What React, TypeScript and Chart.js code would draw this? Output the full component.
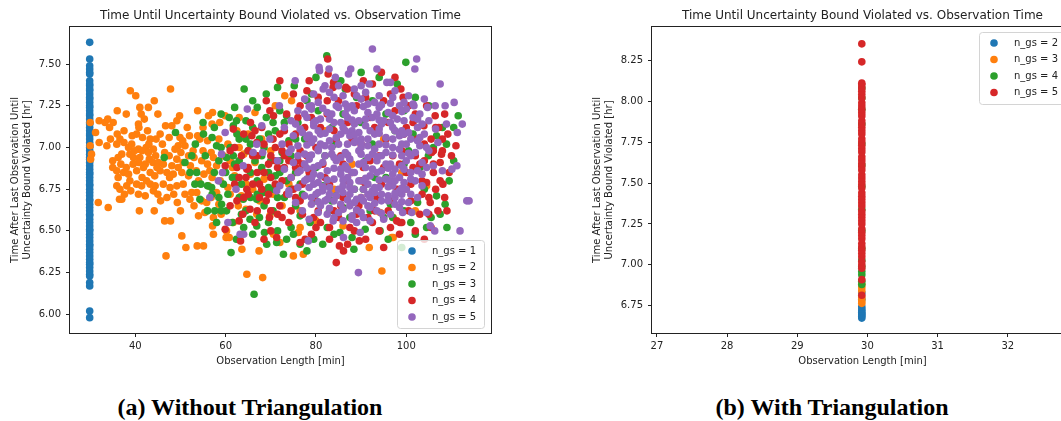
import React, { useEffect, useRef } from 'react';
import { Chart, registerables } from 'chart.js';

Chart.register(...registerables);

const FONT = '"DejaVu Sans", sans-serif';
const TEXT = '#222222';

const TITLE = 'Time Until Uncertainty Bound Violated vs. Observation Time';
const X_LABEL = 'Observation Length [min]';
const Y_LABEL = ['Time After Last Observation Until', 'Uncertainty Bound Violated [hr]'];
const CAPTION_A = '(a) Without Triangulation';
const CAPTION_B = '(b) With Triangulation';

const COLORS = ['#1f77b4', '#ff7f0e', '#2ca02c', '#d62728', '#9467bd'];

const leftLabels = ['n_gs = 1', 'n_gs = 2', 'n_gs = 3', 'n_gs = 4', 'n_gs = 5'];
const rightLabels = ['n_gs = 2', 'n_gs = 3', 'n_gs = 4', 'n_gs = 5'];

const leftXTicks = [40, 60, 80, 100];
const leftYTicks = [6.0, 6.25, 6.5, 6.75, 7.0, 7.25, 7.5];
const rightXTicks = [27, 28, 29, 30, 31, 32];
const rightYTicks = [6.75, 7.0, 7.25, 7.5, 7.75, 8.0, 8.25];

const leftXRange = [25.54, 118.76];
const leftYRange = [5.888, 7.722];
const rightXRange = [26.93, 32.93];
const rightYRange = [6.584, 8.453];

const POINT_R = 3.8;

// ---- (a) Without Triangulation ----
const n1X = 29.9;
const n1Y = [7.63, 7.53, 7.49, 7.47, 7.45, 7.44, 7.40, 7.38, 7.37, 7.35, 7.34, 7.32, 7.30, 7.29, 7.27, 7.25, 7.24, 7.22, 7.20, 7.19, 7.17, 7.15, 7.14, 7.12, 7.10, 7.08, 7.07, 7.05, 7.03, 7.01, 7.00, 6.98, 6.96, 6.94, 6.93, 6.91, 6.89, 6.87, 6.85, 6.84, 6.82, 6.80, 6.78, 6.77, 6.75, 6.73, 6.71, 6.69, 6.68, 6.66, 6.64, 6.62, 6.60, 6.59, 6.57, 6.55, 6.53, 6.51, 6.50, 6.48, 6.46, 6.44, 6.42, 6.41, 6.39, 6.37, 6.35, 6.33, 6.31, 6.30, 6.28, 6.26, 6.24, 6.23, 6.19, 6.17, 6.02, 5.98];

const n2Points = [
  [38.9, 7.34], [40.1, 7.31], [47.8, 7.35], [73.1, 7.31],
  [41.0, 7.24], [42.9, 7.24], [44.2, 7.28], [41.3, 7.20], [53.8, 7.22], [56.2, 7.19], [57.1, 7.21], [49.8, 7.19], [49.2, 7.16], [59.9, 7.19], [63.0, 7.18], [66.5, 7.21], [71.0, 7.25], [74.6, 7.28],
  [30.0, 7.15], [32.0, 7.16], [33.3, 7.15], [33.9, 7.17], [35.1, 7.15], [40.7, 7.14], [57.0, 7.14], [58.7, 7.15],
  [31.2, 7.09], [34.3, 7.12], [40.8, 7.12], [46.7, 7.13], [48.1, 7.13], [45.5, 7.08], [42.7, 7.10], [39.3, 7.07], [40.3, 7.08], [41.6, 7.06], [43.3, 7.05], [44.6, 7.05], [36.6, 7.05], [37.5, 7.03], [35.9, 7.02], [33.7, 7.01], [32.0, 7.03], [30.0, 7.01], [53.8, 7.07], [54.3, 7.05], [49.9, 7.06], [49.5, 7.01], [51.0, 7.01], [39.2, 7.02], [42.4, 7.00], [62.5, 7.10], [65.0, 7.08], [56.0, 7.04], [60.5, 7.02], [68.0, 7.05],
  [30.3, 6.96], [30.1, 6.93], [40.7, 6.99], [44.0, 6.99], [37.0, 6.96], [38.8, 6.96], [39.6, 6.94], [41.0, 6.94], [42.9, 6.97], [43.1, 6.93], [40.7, 6.91], [42.2, 6.90], [43.9, 6.91], [45.1, 6.91], [50.1, 6.97], [51.8, 6.95], [49.2, 6.93], [50.6, 6.91], [48.1, 6.89], [57.3, 6.94], [54.7, 6.92], [56.0, 6.90], [58.0, 6.89], [46.5, 6.97], [35.0, 6.92], [36.2, 6.94], [47.5, 6.95], [52.8, 6.98], [61.0, 6.92], [64.0, 6.96], [66.5, 6.91],
  [35.9, 6.86], [37.4, 6.85], [40.3, 6.86], [43.3, 6.85], [45.5, 6.86], [47.0, 6.85], [48.4, 6.84], [50.3, 6.85], [51.8, 6.83], [36.2, 6.82], [38.5, 6.84], [41.5, 6.82], [44.3, 6.83], [53.5, 6.86], [55.2, 6.84], [57.0, 6.82], [59.5, 6.85], [62.0, 6.83], [65.5, 6.84], [68.5, 6.81], [72.0, 6.86],
  [35.9, 6.77], [36.6, 6.75], [38.1, 6.77], [40.3, 6.78], [41.4, 6.77], [43.3, 6.78], [44.4, 6.77], [46.2, 6.78], [47.7, 6.76], [49.2, 6.77], [50.6, 6.78], [40.7, 6.72], [42.2, 6.71], [44.0, 6.74], [51.0, 6.72], [52.5, 6.73], [56.2, 6.77], [58.0, 6.73], [53.6, 6.73], [37.6, 6.72], [39.0, 6.74], [60.5, 6.76], [63.5, 6.71], [66.0, 6.75], [70.5, 6.72], [74.0, 6.78],
  [31.8, 6.67], [34.0, 6.64], [36.5, 6.69], [37.0, 6.69], [45.6, 6.68], [49.3, 6.67], [52.1, 6.69], [54.7, 6.68], [55.8, 6.67], [40.9, 6.62], [44.2, 6.62], [55.4, 6.61], [62.8, 6.65], [66.9, 6.60], [69.8, 6.59], [58.5, 6.66], [64.5, 6.63], [76.5, 6.62], [94.2, 6.61], [72.5, 6.65],
  [46.5, 6.56], [47.8, 6.56], [54.0, 6.59], [57.3, 6.58], [57.1, 6.53], [61.7, 6.55], [97.1, 6.58], [76.5, 6.52], [80.0, 6.56], [86.0, 6.53],
  [50.3, 6.47], [57.3, 6.48], [60.1, 6.46], [60.8, 6.46], [60.2, 6.50], [70.6, 6.48], [76.1, 6.49], [96.8, 6.46], [97.1, 6.46], [72.0, 6.43], [53.7, 6.41], [55.1, 6.41], [51.2, 6.40], [91.8, 6.40],
  [46.8, 6.35], [63.6, 6.39], [67.4, 6.38], [75.0, 6.35], [77.2, 6.36], [64.7, 6.24], [68.2, 6.22], [94.6, 6.26],
  [78.0, 6.95], [84.0, 6.75], [90.0, 6.70], [88.0, 6.90], [100.0, 6.75], [104.5, 6.77], [95.0, 7.05], [82.0, 7.10], [70.0, 6.98], [67.5, 6.68], [102.0, 6.62], [99.0, 6.85],
  [34.5, 7.05], [36.0, 7.08], [37.5, 7.10], [38.5, 7.00], [39.8, 6.98], [41.5, 6.98], [43.0, 7.02], [44.5, 6.95], [46.0, 7.02], [47.5, 7.06], [48.8, 6.99], [50.5, 7.04], [52.0, 7.07], [53.0, 6.94], [55.0, 6.98], [56.8, 6.97], [58.5, 7.05], [59.5, 6.95],
  [35.0, 6.88], [36.8, 6.90], [38.0, 6.88], [39.5, 6.90], [41.8, 6.88], [44.8, 6.88], [46.2, 6.90], [47.6, 6.82], [49.5, 6.88], [52.2, 6.89], [54.0, 6.80], [56.5, 6.86], [58.8, 6.80], [61.0, 6.72], [38.8, 6.80], [42.5, 6.80], [45.0, 6.72], [47.0, 6.70], [48.5, 6.72], [50.0, 6.62], [53.0, 6.65], [56.8, 6.70], [59.0, 6.60], [61.5, 6.88], [63.0, 7.00], [64.5, 6.78], [42.0, 7.17], [45.0, 7.20], [51.5, 7.12], [55.0, 7.12], [38.0, 7.20], [36.0, 7.22],
];

const n3Points = [
  [82.4, 7.55], [99.9, 7.51], [64.1, 7.35], [75.2, 7.37], [73.5, 7.19],
  [111.5, 7.19], [108.9, 7.02], [104.9, 6.95], [106.7, 7.07], [48.9, 7.09], [55.1, 7.08], [53.3, 7.02], [46.4, 6.94], [51.0, 6.91], [52.1, 6.85], [53.6, 6.85], [58.0, 7.01], [60.2, 6.94], [61.7, 6.95], [60.8, 7.18], [62.4, 7.16], [61.7, 7.13],
  [53.2, 6.78], [56.9, 6.76], [59.1, 6.66], [60.2, 6.62], [61.2, 6.37], [66.3, 6.12], [66.0, 6.48], [68.6, 6.49], [69.1, 6.42], [71.3, 6.43], [69.5, 6.55], [65.4, 6.57], [66.9, 6.53], [62.4, 6.45], [63.9, 6.69], [66.9, 6.69], [68.4, 6.73], [57.6, 6.62], [54.3, 6.69],
  [72.8, 6.36], [81.5, 6.42], [88.4, 6.39], [94.2, 6.50], [108.6, 6.66], [106.7, 6.71], [85.3, 6.49], [78.7, 6.55], [90.9, 6.51], [76.5, 6.59],
  [63.0, 7.05], [65.0, 6.98], [66.5, 6.92], [68.0, 6.88], [67.0, 6.80], [69.5, 6.76], [71.0, 6.83], [72.5, 6.97], [74.0, 7.04], [73.0, 6.70], [75.5, 6.65], [77.0, 6.72], [78.5, 6.82], [80.0, 6.68], [81.5, 6.77], [83.0, 6.62], [84.5, 6.71], [86.0, 6.64], [87.5, 6.58], [89.0, 6.67], [90.5, 6.75], [92.0, 6.62], [93.5, 6.70], [95.0, 6.58], [96.5, 6.66], [98.0, 6.73], [99.5, 6.62], [101.0, 6.55], [102.5, 6.67], [104.0, 6.75], [105.5, 6.58], [103.0, 6.88], [100.5, 6.98], [97.5, 7.10], [95.5, 7.20], [92.5, 7.28], [89.0, 7.30], [86.0, 7.20], [83.5, 7.12], [80.5, 7.22], [78.0, 7.28], [76.0, 7.15], [71.0, 7.10], [69.0, 7.18], [67.0, 7.24], [64.5, 7.16], [62.5, 6.82], [59.5, 6.78], [57.5, 6.85], [55.5, 6.95], [65.5, 6.70], [70.5, 6.62], [74.5, 6.52], [79.5, 6.45], [82.5, 6.52], [88.0, 6.46], [96.0, 6.45], [99.0, 6.40], [102.0, 6.48], [107.5, 6.60], [109.5, 6.80], [110.5, 6.92], [108.0, 7.12], [105.0, 7.25], [102.0, 7.30], [98.0, 7.38], [94.0, 7.42], [90.0, 7.45], [85.5, 7.40], [80.0, 7.42], [77.5, 7.05], [82.0, 6.95], [86.5, 6.88], [91.0, 6.92], [95.5, 6.82], [99.5, 6.90], [84.0, 7.02], [88.0, 7.08], [92.5, 7.02], [68.5, 7.00], [72.0, 7.22], [70.0, 6.92], [61.0, 7.00], [58.5, 6.70], [63.5, 6.60], [67.5, 6.58], [71.5, 6.50], [76.5, 6.42], [73.5, 6.45], [110.5, 7.12], [109.0, 6.52], [56.0, 6.77], [59.0, 6.62],
  [55.0, 7.15], [57.0, 7.06], [59.0, 7.20], [60.0, 6.85], [62.0, 6.90], [63.5, 6.78], [64.5, 7.05], [65.5, 6.85], [66.0, 7.12], [67.5, 7.05], [68.5, 6.65], [69.5, 6.85], [70.5, 7.15], [71.5, 6.70], [72.0, 6.92], [73.5, 6.80], [74.5, 6.95], [75.5, 7.05], [63.0, 6.70], [61.5, 6.55], [64.0, 6.52], [58.0, 6.55], [56.0, 6.62], [54.5, 6.78], [52.5, 6.95], [57.5, 7.12], [69.0, 7.32], [66.0, 7.28], [62.0, 7.24], [71.5, 7.36], [80.0, 6.88], [88.5, 6.75], [93.0, 6.82], [97.0, 6.58], [101.5, 7.08], [104.5, 6.52], [106.0, 7.00], [83.5, 6.68], [90.0, 7.15], [79.0, 7.32], [86.5, 7.35], [99.5, 7.22], [84.0, 6.48], [75.0, 6.48], [78.0, 6.38],
  [60.5, 6.72], [61.5, 6.82], [63.0, 6.92], [64.5, 6.62], [65.5, 7.02], [67.0, 6.72], [68.0, 6.95], [69.5, 7.08], [70.5, 6.75], [72.0, 6.85], [73.0, 7.15], [74.5, 6.75], [75.5, 6.85], [76.5, 6.78], [62.5, 7.08], [58.5, 6.92], [57.0, 6.72], [59.0, 7.00],
];

const n4Points = [
  [82.6, 7.53], [82.7, 7.44], [83.9, 7.39], [78.5, 7.40], [98.8, 7.35], [99.3, 7.30], [86.6, 7.36], [72.0, 7.40], [83.8, 7.36], [109.2, 7.08], [111.0, 7.01], [108.0, 6.98], [105.6, 6.97], [106.0, 6.90], [107.5, 6.91], [103.9, 7.13], [106.4, 7.19], [107.2, 7.12], [107.8, 6.96],
  [69.8, 7.22], [70.6, 7.19], [61.7, 7.11], [65.8, 7.07], [66.9, 7.03], [59.9, 6.89], [64.7, 6.87], [59.9, 6.51], [63.0, 6.56], [63.8, 6.60], [63.3, 6.44], [64.7, 6.75], [65.4, 6.63], [71.3, 6.46], [69.7, 6.58],
  [84.5, 6.31], [85.2, 6.41], [86.1, 6.38], [89.6, 6.44], [98.6, 6.55], [97.9, 6.56], [77.6, 6.45], [76.5, 6.43], [105.3, 6.67], [104.5, 6.79], [108.1, 6.78],
  [66.0, 6.78], [67.5, 6.70], [68.5, 6.85], [70.0, 6.95], [71.0, 6.78], [72.0, 6.65], [73.0, 6.88], [74.0, 7.02], [75.0, 6.75], [76.0, 6.92], [77.0, 6.60], [77.5, 7.12], [78.5, 6.85], [79.5, 6.70], [80.0, 7.00], [81.0, 6.55], [81.5, 6.90], [82.5, 7.20], [83.0, 6.78], [84.0, 6.62], [84.5, 7.05], [85.5, 6.95], [86.0, 6.70], [87.0, 7.15], [87.5, 6.52], [88.0, 6.85], [89.0, 7.25], [89.5, 6.65], [90.0, 7.02], [91.0, 6.78], [91.5, 6.58], [92.0, 6.92], [93.0, 7.12], [93.5, 6.70], [94.0, 6.50], [95.0, 6.88], [95.5, 7.05], [96.0, 6.62], [97.0, 6.95], [97.5, 7.22], [98.0, 6.75], [99.0, 6.55], [99.5, 7.08], [100.0, 6.85], [101.0, 6.68], [101.5, 7.15], [102.0, 6.95], [103.0, 6.60], [103.5, 6.80], [104.0, 7.02], [105.0, 6.70], [105.5, 6.52], [106.0, 6.85], [107.0, 6.62], [108.0, 7.05],
  [100.5, 7.25], [96.5, 7.32], [92.5, 7.38], [88.5, 7.32], [85.0, 7.28], [80.5, 7.30], [76.5, 7.25], [73.5, 7.20], [70.5, 7.05], [68.0, 7.12], [67.0, 6.95], [64.5, 6.82], [62.0, 6.78], [61.0, 6.65], [66.5, 6.55], [70.0, 6.50], [74.0, 6.55], [79.0, 6.48], [83.0, 6.45], [87.0, 6.42], [91.0, 6.45], [95.0, 6.40], [102.0, 6.50],
  [72.5, 6.98], [75.5, 7.08], [78.0, 6.95], [82.0, 6.82], [86.5, 6.80], [90.5, 6.88], [94.5, 6.78], [98.5, 6.90], [102.5, 7.05], [106.5, 7.12], [79.0, 7.18], [84.0, 7.10], [88.0, 7.05], [92.0, 7.18], [96.0, 7.15], [100.0, 7.12], [104.5, 7.25], [71.5, 6.88], [69.0, 6.68], [74.5, 6.82], [77.0, 6.78], [80.5, 6.62], [85.0, 6.58], [89.0, 6.60], [93.0, 6.62], [97.0, 6.68], [101.0, 6.78], [105.0, 6.60], [108.5, 6.70], [109.5, 6.85], [110.0, 6.95], [106.5, 6.75], [103.0, 6.90],
  [63.5, 6.95], [65.0, 6.88], [66.5, 7.10], [68.0, 6.75], [69.5, 6.90], [71.0, 7.00], [72.5, 6.80], [74.0, 6.92], [75.5, 6.70], [73.0, 7.10], [76.5, 6.98], [78.5, 7.05], [70.0, 6.62], [67.0, 6.62], [64.0, 6.70], [62.5, 6.88], [61.0, 6.98], [65.5, 7.15], [69.0, 7.28], [75.0, 7.32], [79.5, 6.58], [72.5, 6.58], [68.5, 6.45],
  [102.0, 7.20], [104.0, 6.92], [106.0, 6.98], [107.5, 6.80], [109.0, 6.62], [103.5, 6.72], [100.5, 6.62], [105.5, 7.05], [108.5, 7.20], [101.5, 6.88], [99.0, 6.98], [86.0, 6.90], [90.0, 6.80], [94.0, 6.95], [81.0, 7.12], [85.5, 6.65], [92.5, 6.55], [96.5, 6.52], [88.5, 6.50], [83.0, 6.52], [80.0, 6.52], [98.5, 6.48], [104.0, 6.45], [87.0, 7.35], [91.0, 7.30], [95.0, 7.28], [82.5, 7.28], [78.0, 7.34], [94.5, 7.45], [97.5, 7.42], [90.5, 7.40],
  [62.0, 7.00], [63.0, 6.82], [64.0, 7.08], [65.0, 6.72], [66.0, 6.95], [67.0, 6.85], [68.5, 7.02], [69.5, 6.72], [71.0, 6.92], [72.0, 7.08], [73.5, 6.72], [74.5, 6.62], [75.5, 6.88], [76.0, 7.18], [77.0, 6.90], [70.0, 6.82], [73.0, 6.95], [67.5, 6.78], [65.0, 6.98], [62.5, 6.68], [71.5, 6.60], [76.5, 6.68],
];

const n5Points = [
  [92.5, 7.59], [102.3, 7.53], [101.9, 7.47], [93.5, 7.47], [82.9, 7.47], [80.7, 7.48], [80.8, 7.46], [87.7, 7.47], [87.2, 7.44], [84.3, 7.42], [75.4, 7.40], [107.5, 7.38], [110.6, 7.27], [108.6, 7.25], [112.4, 7.14], [111.3, 7.09], [108.9, 7.14], [104.0, 7.29], [104.7, 7.24], [106.4, 7.25], [101.7, 7.25], [95.7, 7.39], [96.5, 7.39], [91.8, 7.38], [89.0, 7.31], [82.0, 7.37], [81.6, 7.35], [110.1, 6.87], [111.2, 6.89],
  [64.8, 7.23], [71.9, 7.25], [59.9, 7.09], [59.1, 6.96], [59.3, 6.85], [68.0, 7.13], [69.8, 7.05], [66.9, 7.02], [63.9, 6.89], [66.1, 6.97], [68.2, 6.97], [58.4, 6.80], [62.3, 6.75], [56.5, 6.70], [60.5, 6.55], [63.2, 6.48], [64.0, 6.48], [71.3, 6.74],
  [89.4, 6.25], [86.1, 6.46], [78.3, 6.44], [105.3, 6.53], [106.3, 6.50], [111.9, 6.50], [113.4, 6.68], [113.9, 6.68], [104.5, 6.61], [101.2, 6.61], [99.2, 6.61], [89.0, 6.55], [83.8, 6.56], [89.8, 6.49],
  [79.5, 7.32], [83.0, 7.33], [86.0, 7.31], [88.5, 7.35], [91.0, 7.33], [94.0, 7.31], [97.5, 7.34], [100.5, 7.31], [85.0, 7.37], [90.0, 7.37],
  [77.5, 7.29], [80.5, 7.27], [84.0, 7.30], [86.5, 7.26], [90.0, 7.29], [93.0, 7.27], [97.0, 7.30], [99.5, 7.27],
  [76.0, 7.22], [79.0, 7.23], [82.5, 7.21], [85.0, 7.24], [88.5, 7.22], [91.5, 7.21], [94.0, 7.24], [96.0, 7.21], [100.0, 7.23], [103.0, 7.20],
  [74.5, 7.16], [78.0, 7.18], [81.0, 7.17], [84.0, 7.15], [87.0, 7.18], [89.5, 7.16], [92.5, 7.18], [95.0, 7.16], [98.0, 7.17], [101.5, 7.18], [105.0, 7.16],
  [73.0, 7.12], [76.5, 7.11], [79.5, 7.13], [83.0, 7.11], [86.0, 7.12], [88.0, 7.10], [91.0, 7.13], [94.0, 7.11], [97.0, 7.12], [99.0, 7.10], [102.5, 7.12], [106.5, 7.11],
  [75.0, 7.07], [78.0, 7.06], [81.0, 7.08], [84.5, 7.06], [87.5, 7.07], [90.0, 7.05], [93.0, 7.08], [95.5, 7.06], [98.5, 7.07], [101.0, 7.05], [104.0, 7.08],
  [72.5, 7.02], [76.0, 7.01], [79.0, 7.03], [82.0, 7.01], [85.0, 7.02], [88.5, 7.03], [91.5, 7.01], [94.0, 7.02], [97.0, 7.00], [100.0, 7.02], [103.0, 7.01], [107.0, 7.03],
  [74.0, 6.97], [77.5, 6.96], [80.5, 6.98], [83.5, 6.96], [86.5, 6.97], [89.5, 6.98], [92.5, 6.96], [95.5, 6.97], [99.0, 6.95], [102.0, 6.97], [105.0, 6.98],
  [71.5, 6.92], [75.0, 6.91], [78.5, 6.93], [81.5, 6.91], [84.5, 6.92], [87.5, 6.93], [90.5, 6.91], [93.5, 6.92], [96.5, 6.90], [100.0, 6.92], [103.5, 6.91],
  [73.0, 6.87], [76.5, 6.86], [79.5, 6.88], [82.5, 6.86], [85.5, 6.87], [88.0, 6.85], [91.0, 6.88], [94.5, 6.86], [97.5, 6.87], [101.0, 6.85], [104.5, 6.88], [108.0, 6.86],
  [74.5, 6.82], [78.0, 6.81], [81.0, 6.83], [84.0, 6.81], [87.0, 6.82], [89.5, 6.80], [92.0, 6.83], [95.5, 6.81], [98.5, 6.82], [102.0, 6.80],
  [72.0, 6.77], [76.0, 6.76], [79.5, 6.78], [83.0, 6.76], [86.0, 6.77], [88.5, 6.75], [91.5, 6.78], [94.0, 6.76], [97.0, 6.77], [100.0, 6.75], [103.5, 6.77],
  [74.0, 6.72], [77.5, 6.71], [80.5, 6.73], [84.5, 6.71], [87.5, 6.72], [90.0, 6.70], [93.0, 6.73], [96.0, 6.71], [99.0, 6.72], [102.5, 6.70],
  [75.5, 6.67], [79.0, 6.66], [82.0, 6.68], [85.5, 6.66], [88.5, 6.67], [91.5, 6.65], [94.5, 6.68], [97.5, 6.66], [100.5, 6.67],
  [77.0, 6.62], [80.5, 6.61], [86.0, 6.63], [90.0, 6.61], [93.5, 6.62], [96.5, 6.60],
  [78.5, 6.57], [84.0, 6.58], [92.0, 6.56], [95.0, 6.57],
  [79.0, 7.25], [88.0, 7.25], [91.5, 7.26], [98.5, 7.25], [101.5, 7.26],
  [77.5, 7.20], [83.5, 7.20], [86.5, 7.20], [93.5, 7.20], [97.0, 7.19], [102.5, 7.17],
  [75.5, 7.14], [79.5, 7.15], [85.5, 7.15], [88.5, 7.14], [94.5, 7.14], [96.5, 7.15], [103.5, 7.14],
  [77.0, 7.09], [80.5, 7.10], [86.5, 7.10], [89.5, 7.09], [92.0, 7.10], [97.5, 7.10], [100.5, 7.09],
  [79.5, 7.05], [83.0, 7.04], [89.0, 7.04], [91.5, 7.05], [97.0, 7.05], [102.5, 7.04],
  [74.5, 6.99], [80.5, 6.99], [83.5, 7.00], [90.0, 7.00], [93.0, 6.99], [98.5, 6.99], [104.5, 7.00],
  [76.0, 6.95], [82.0, 6.95], [85.5, 6.94], [91.5, 6.94], [94.5, 6.95], [101.0, 6.95],
  [77.5, 6.90], [80.5, 6.89], [86.5, 6.89], [89.5, 6.90], [95.5, 6.90], [99.0, 6.89], [106.0, 6.89],
  [76.0, 6.85], [79.5, 6.84], [85.5, 6.84], [88.5, 6.85], [93.5, 6.85], [97.0, 6.84], [103.5, 6.84],
  [77.5, 6.80], [80.5, 6.79], [87.5, 6.79], [90.5, 6.80], [96.5, 6.80], [99.5, 6.79],
  [74.0, 6.74], [81.5, 6.74], [85.0, 6.75], [90.5, 6.75], [92.5, 6.74], [98.5, 6.74],
  [79.0, 6.70], [82.5, 6.69], [89.0, 6.69], [92.0, 6.70], [97.5, 6.70],
  [81.0, 6.65], [87.5, 6.65], [92.0, 6.64], [98.5, 6.64],
  [82.5, 6.60], [88.0, 6.59],
  [78.5, 7.245], [81.5, 7.235], [84.5, 7.25], [87.0, 7.235], [90.5, 7.245], [94.5, 7.255], [96.5, 7.265], [99.0, 7.215],
  [80.0, 7.16], [83.0, 7.17], [88.0, 7.165], [91.0, 7.17], [94.0, 7.165], [99.5, 7.16],
  [78.5, 7.075], [82.0, 7.085], [85.5, 7.08], [88.5, 7.075], [94.0, 7.085], [99.5, 7.08], [103.0, 7.06],
  [78.0, 7.015], [81.0, 7.02], [87.0, 7.02], [90.0, 7.025], [95.5, 7.015], [99.0, 7.02],
  [79.0, 6.955], [84.0, 6.94], [87.0, 6.955], [90.0, 6.96], [93.5, 6.945], [97.0, 6.955], [100.5, 6.965],
  [78.0, 6.875], [84.0, 6.875], [87.0, 6.87], [92.5, 6.87], [96.0, 6.875], [99.5, 6.87], [102.5, 6.86],
  [79.0, 6.815], [82.5, 6.805], [86.0, 6.805], [91.0, 6.815], [94.0, 6.805], [97.5, 6.80], [101.0, 6.81],
  [78.5, 6.76], [81.5, 6.765], [87.5, 6.76], [93.0, 6.76], [96.0, 6.765], [99.0, 6.755],
  [80.0, 6.72], [83.0, 6.72], [86.0, 6.73], [91.5, 6.72], [94.5, 6.72], [97.5, 6.725], [101.0, 6.72],
  [80.5, 6.675], [84.0, 6.68], [87.0, 6.685], [90.5, 6.68], [93.0, 6.665], [96.0, 6.68], [99.0, 6.675],
  [83.0, 6.635], [85.0, 6.61], [89.0, 6.625], [94.5, 6.605], [88.0, 6.57], [90.5, 6.58], [86.0, 6.56],
];

// ---- (b) With Triangulation ----
const rightX = 29.92;
const r2Y = [6.675, 6.685, 6.695, 6.70, 6.71, 6.72, 6.73, 6.745, 6.79, 6.83];
const r3Y = [6.765, 6.78, 6.80, 6.84, 6.86, 6.88];
const r4Y = [6.88, 6.90, 6.94, 6.96, 6.99, 7.03, 7.10, 7.21, 7.34, 7.48, 7.61, 7.74, 7.86, 7.95, 8.02, 8.08];
const r5Y = [6.815, 6.91, 6.98, 7.00, 7.02, 7.05, 7.07, 7.09, 7.11, 7.13, 7.16, 7.18, 7.20, 7.22, 7.25, 7.27, 7.29, 7.31, 7.33, 7.36, 7.38, 7.40, 7.42, 7.44, 7.47, 7.49, 7.51, 7.53, 7.55, 7.58, 7.60, 7.62, 7.64, 7.66, 7.69, 7.71, 7.73, 7.75, 7.77, 7.80, 7.82, 7.84, 7.86, 7.88, 7.91, 7.93, 7.95, 7.97, 7.99, 8.02, 8.04, 8.06, 8.08, 8.10, 8.11, 8.24, 8.35];

const pairs = (pts: number[][]) => pts.map(([x, y]) => ({ x, y }));
const column = (x: number, ys: number[]) => ys.map((y) => ({ x, y }));

const mplPlugin = {
  id: 'mplFrame',
  afterDatasetsDraw(chart: any, _args: any, opts: any) {
    const { ctx, chartArea: a } = chart;
    ctx.save();
    ctx.strokeStyle = TEXT;
    ctx.lineWidth = 1;
    const L = Math.round(a.left), T = Math.round(a.top), R = Math.round(a.right), B = Math.round(a.bottom);
    ctx.strokeRect(L - 0.5, T - 0.5, R - L + 1, B - T + 1);

    const ds = chart.data.datasets;
    ctx.font = `10px ${FONT}`;
    const tw = Math.max(...ds.map((d: any) => ctx.measureText(d.label).width));
    const w = Math.round(35 + tw + 8);
    const h = Math.round(22 + 16.5 * (ds.length - 1));
    const x0 = R - 7 - w;
    const y0 = opts.loc === 'lower right' ? B - 5 - h : T + 5;
    const r = 3;
    ctx.beginPath();
    ctx.moveTo(x0 + r + 0.5, y0 + 0.5);
    ctx.arcTo(x0 + w + 0.5, y0 + 0.5, x0 + w + 0.5, y0 + h + 0.5, r);
    ctx.arcTo(x0 + w + 0.5, y0 + h + 0.5, x0 + 0.5, y0 + h + 0.5, r);
    ctx.arcTo(x0 + 0.5, y0 + h + 0.5, x0 + 0.5, y0 + 0.5, r);
    ctx.arcTo(x0 + 0.5, y0 + 0.5, x0 + w + 0.5, y0 + 0.5, r);
    ctx.closePath();
    ctx.fillStyle = 'rgba(255,255,255,0.8)';
    ctx.fill();
    ctx.strokeStyle = '#d4d4d4';
    ctx.stroke();
    ds.forEach((d: any, i: number) => {
      const cy = y0 + 11 + 16.5 * i;
      ctx.beginPath();
      ctx.arc(x0 + 15, cy, POINT_R, 0, Math.PI * 2);
      ctx.fillStyle = d.backgroundColor;
      ctx.fill();
      ctx.fillStyle = TEXT;
      ctx.textAlign = 'left';
      ctx.textBaseline = 'middle';
      ctx.fillText(d.label, x0 + 35, cy);
    });
    ctx.restore();
  },
};

function makeConfig(
  datasets: any[],
  xRange: number[],
  yRange: number[],
  xTicks: number[],
  yTicks: number[],
  loc: string
): any {
  const tickFont = { family: FONT, size: 10 };
  return {
    type: 'scatter',
    data: { datasets },
    plugins: [mplPlugin],
    options: {
      animation: false,
      responsive: false,
      devicePixelRatio: 1,
      events: [],
      layout: { padding: { left: 0, right: 9, top: 0, bottom: 0 } },
      plugins: {
        legend: { display: false },
        tooltip: { enabled: false },
        title: {
          display: true,
          text: TITLE,
          fullSize: false,
          color: TEXT,
          font: { family: FONT, size: 12, weight: 'normal' },
          padding: { top: 9, bottom: 3.6 },
        },
        mplFrame: { loc },
      },
      scales: {
        x: {
          type: 'linear',
          min: xRange[0],
          max: xRange[1],
          afterBuildTicks: (s: any) => {
            s.ticks = xTicks.map((v) => ({ value: v }));
          },
          afterFit: (s: any) => {
            s.height = 37;
          },
          ticks: {
            font: tickFont,
            color: TEXT,
            padding: 3,
            maxRotation: 0,
            autoSkip: false,
            callback: (v: any) => String(v),
          },
          grid: { display: true, drawOnChartArea: false, drawTicks: true, tickLength: 4, color: TEXT },
          border: { display: false },
          title: {
            display: true,
            text: X_LABEL,
            color: TEXT,
            font: tickFont,
            padding: { top: 0, bottom: 3 },
          },
        },
        y: {
          type: 'linear',
          min: yRange[0],
          max: yRange[1],
          afterBuildTicks: (s: any) => {
            s.ticks = yTicks.map((v) => ({ value: v }));
          },
          afterFit: (s: any) => {
            s.width = 70;
          },
          ticks: {
            font: tickFont,
            color: TEXT,
            padding: 5,
            autoSkip: false,
            callback: (v: any) => Number(v).toFixed(2),
          },
          grid: { display: true, drawOnChartArea: false, drawTicks: true, tickLength: 4, color: TEXT },
          border: { display: false },
          title: {
            display: true,
            text: Y_LABEL,
            color: TEXT,
            font: tickFont,
            padding: { top: 9, bottom: 0 },
          },
        },
      },
    },
  };
}

function ds(label: string, data: any[], color: string, order: number) {
  return {
    label,
    data,
    backgroundColor: color,
    borderWidth: 0,
    pointRadius: POINT_R,
    pointHoverRadius: POINT_R,
    pointBorderWidth: 0,
    order,
  };
}

function ScatterPanel({ config, left }: { config: () => any; left: number }) {
  const ref = useRef<HTMLCanvasElement | null>(null);
  useEffect(() => {
    if (!ref.current) return;
    const chart = new Chart(ref.current, config());
    return () => chart.destroy();
  }, []);
  return (
    <canvas
      ref={ref}
      width={500}
      height={370}
      style={{ position: 'absolute', left, top: 0, width: 500, height: 370 }}
    />
  );
}

const leftConfig = () =>
  makeConfig(
    [
      ds(leftLabels[0], column(n1X, n1Y), COLORS[0], 5),
      ds(leftLabels[1], pairs(n2Points), COLORS[1], 4),
      ds(leftLabels[2], pairs(n3Points), COLORS[2], 3),
      ds(leftLabels[3], pairs(n4Points), COLORS[3], 2),
      ds(leftLabels[4], pairs(n5Points), COLORS[4], 1),
    ],
    leftXRange,
    leftYRange,
    leftXTicks,
    leftYTicks,
    'lower right'
  );

const rightConfig = () =>
  makeConfig(
    [
      ds(rightLabels[0], column(rightX, r2Y), COLORS[0], 4),
      ds(rightLabels[1], column(rightX, r3Y), COLORS[1], 3),
      ds(rightLabels[2], column(rightX, r4Y), COLORS[2], 2),
      ds(rightLabels[3], column(rightX, r5Y), COLORS[3], 1),
    ],
    rightXRange,
    rightYRange,
    rightXTicks,
    rightYTicks,
    'upper right'
  );

const captionStyle: React.CSSProperties = {
  position: 'absolute',
  top: 395,
  width: 500,
  textAlign: 'center',
  fontFamily: '"Liberation Serif", "Times New Roman", serif',
  fontWeight: 'bold',
  fontSize: 24,
  lineHeight: '24px',
  color: '#000',
  whiteSpace: 'nowrap',
};

export default function App() {
  return (
    <div
      style={{
        position: 'absolute',
        left: 0,
        top: 0,
        width: 1061,
        height: 421,
        overflow: 'hidden',
        background: '#ffffff',
      }}
    >
      <ScatterPanel config={leftConfig} left={0} />
      <ScatterPanel config={rightConfig} left={582} />
      <div style={{ ...captionStyle, left: 0 }}>{CAPTION_A}</div>
      <div style={{ ...captionStyle, left: 582 }}>{CAPTION_B}</div>
    </div>
  );
}
